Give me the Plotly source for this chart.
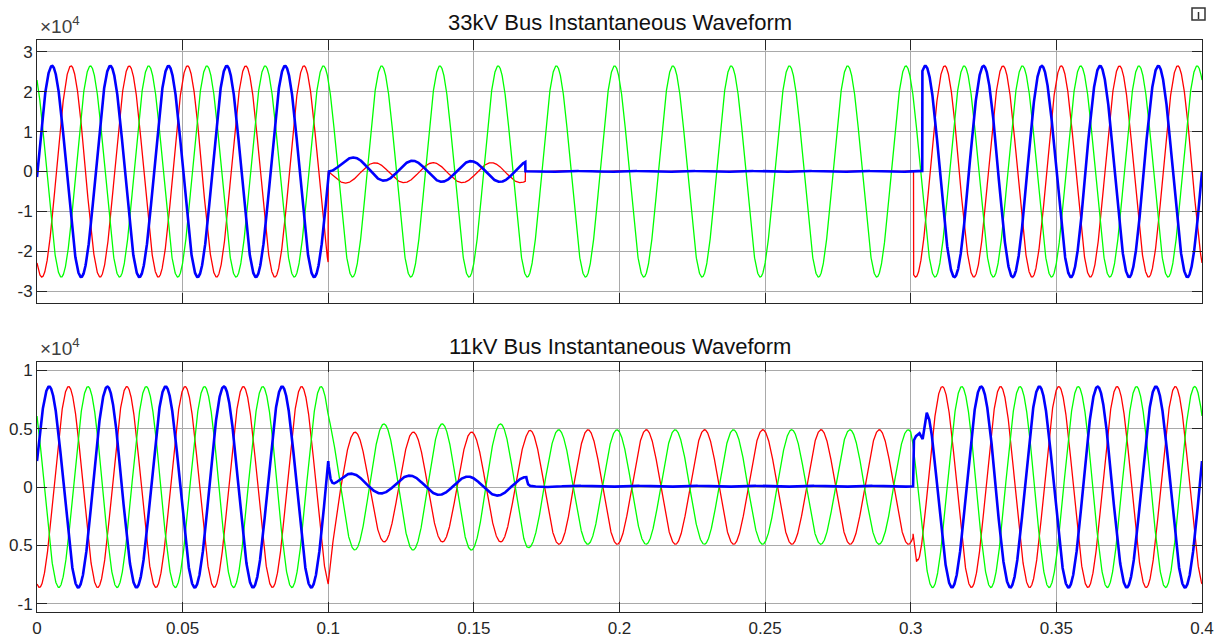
import numpy as np
import plotly.graph_objects as go

# ---------------- data (units of 10^4 V) ----------------
F_HZ = 50.0
T_STOP = 0.4
T_STEP = 0.00005

# Segment rows: (start time s, amplitude, phase deg, dc offset, dc decay s, start value, settle s)
#   start value: None -> waveform jumps; "cont" -> continues from previous segment
BUS33_RED = [
    (0.0,    2.65, -120, 0.0,   0,    None, 0),
    (0.1,    0.25,  162, -0.03, 0,    0.0,  0.004),
    (0.1677, 0.015,  30, 0.008, 0,    None, 0),
    (0.3010, 2.65, -120, 0.0,   0,    None, 0),
]
BUS33_GREEN = [
    (0.0,    2.65,  120, 0.0,   0,    None, 0),
]
BUS33_BLUE = [
    (0.0,    2.65,   -3, 0.0,   0,    None, 0),
    (0.1,    0.26,  -72, 0.0,   0,    0.0,  0.009),
    (0.1677, 0.015,  10, 0.0,   0,    None, 0),
    (0.3040, 2.65,    0, 0.0,   0,    None, 0),
]

BUS11_RED_RECLOSE_T = [0.3008, 0.3020]
BUS11_RED_RECLOSE_V = [-0.40, -0.64]
BUS11_BLUE_RECLOSE_T = [0.3008, 0.3011, 0.3018, 0.3030, 0.3041, 0.3055]
BUS11_BLUE_RECLOSE_V = [0.006, 0.40, 0.435, 0.46, 0.41, 0.636]

BUS11_RED = [
    (0.0,    0.86, -105,  0.0,   0,    None,   0),
    (0.1,    0.47, -75.6, 0.0,   0,    "cont", 0.0015),
    (0.1680, 0.49, -75.6, 0.0,   0,    "cont", 0.001),
    ("knots", BUS11_RED_RECLOSE_T, BUS11_RED_RECLOSE_V),
    (0.3022, 0.86, -105,  0.0,   0,    -0.62,  0.001),
]
BUS11_GREEN = [
    (0.0,    0.86,  135,  0.0,   0,    None,   0),
    (0.1,    0.54,  106,  0.0,   0,    "cont", 0.002),
    (0.1680, 0.49,  106,  0.0,   0,    "cont", 0.002),
    (0.3000, 0.86,  135,  0.0,   0,    "cont", 0.0015),
]
BUS11_BLUE = [
    (0.0,    0.86,   15,  0.0,   0,    None,   0),
    (0.1,    0.08,  -54,  0.045, 0.03, "cont", 0.0007),
    (0.1680, 0.006,   0,  0.006, 0,    "cont", 0.0004),
    ("knots", BUS11_BLUE_RECLOSE_T, BUS11_BLUE_RECLOSE_V),
    (0.3058, 0.86,   15,  0.0,   0,    0.62,   0.0015),
]

X_TICKS = [0, 0.05, 0.1, 0.15, 0.2, 0.25, 0.3, 0.35, 0.4]
X_LABELS = ["0", "0.05", "0.1", "0.15", "0.2", "0.25", "0.3", "0.35", "0.4"]
Y33_TICKS = [-3, -2, -1, 0, 1, 2, 3]
Y33_LABELS = ["-3", "-2", "-1", "0", "1", "2", "3"]
Y11_TICKS = [-1, -0.5, 0, 0.5, 1]
Y11_LABELS = ["-1", "0.5", "0", "0.5", "1"]

TITLE_33 = "33kV Bus Instantaneous Waveform"
TITLE_11 = "11kV Bus Instantaneous Waveform"


# ---------------- waveform assembly ----------------
def segment_func(row, prev):
    t0, amp, ph, dc, dc_tau, v0, tau = row
    ph = np.deg2rad(ph)

    def steady(tt):
        d = dc * (np.exp(-(tt - t0) / dc_tau) if dc_tau else 1.0)
        return amp * np.sin(2 * np.pi * F_HZ * tt + ph) + d

    if v0 is None or tau == 0:
        return steady
    start = prev(t0) if v0 == "cont" else v0
    gap = start - steady(t0)
    return lambda tt: steady(tt) + gap * np.exp(-(tt - t0) / tau)


def trace_xy(rows, t):
    starts = [r[1][0] if r[0] == "knots" else r[0] for r in rows]
    xs, ys, prev = [], [], None
    for i, r in enumerate(rows):
        t_end = starts[i + 1] if i + 1 < len(rows) else np.inf
        if r[0] == "knots":
            kt, kv = np.asarray(r[1], float), np.asarray(r[2], float)
            xs.append(kt)
            ys.append(kv)
            prev = (lambda a, b: (lambda tt: np.interp(tt, a, b)))(kt, kv)
        else:
            f = segment_func(r, prev)
            m = (t >= starts[i]) & (t < t_end)
            xs.append(t[m])
            ys.append(f(t[m]))
            prev = f
    return np.concatenate(xs), np.concatenate(ys)


t = np.round(np.arange(0.0, T_STOP + T_STEP / 2, T_STEP), 7)

RED, GREEN, BLUE = "#ff0000", "#00ff00", "#0000ff"
FONT = "Liberation Sans, Arial, Helvetica, sans-serif"
INK = "#262626"
GRID = "#a9a9a9"

fig = go.Figure()
for rows, col, w, xa, ya in [
    (BUS33_RED, RED, 1.3, "x", "y"),
    (BUS33_GREEN, GREEN, 1.3, "x", "y"),
    (BUS33_BLUE, BLUE, 2.6, "x", "y"),
    (BUS11_RED, RED, 1.3, "x2", "y2"),
    (BUS11_GREEN, GREEN, 1.3, "x2", "y2"),
    (BUS11_BLUE, BLUE, 2.6, "x2", "y2"),
]:
    x, y = trace_xy(rows, t)
    fig.add_trace(go.Scatter(x=x, y=y, mode="lines", xaxis=xa, yaxis=ya,
                             line=dict(color=col, width=w), showlegend=False,
                             hoverinfo="skip"))

axis_common = dict(
    ticks="inside", ticklen=10, tickcolor=INK, tickwidth=1,
    showline=True, linecolor=INK, linewidth=1, mirror="ticks",
    showgrid=True, gridcolor=GRID, gridwidth=1, zeroline=False,
    tickfont=dict(family=FONT, size=17, color=INK), automargin=False,
)

H_TOT = 639
M_L, M_R, M_T, M_B = 37, 21, 40, 27
PLOT_H = H_TOT - M_T - M_B


def py(pix):  # pixel row -> paper y
    return (H_TOT - M_B - pix) / PLOT_H


fig.update_layout(
    template="none",
    width=1223, height=639,
    margin=dict(l=M_L, r=M_R, t=M_T, b=M_B, pad=0),
    paper_bgcolor="white", plot_bgcolor="white",
    font=dict(family=FONT, color=INK),
    xaxis=dict(axis_common, domain=[0, 1], anchor="y", range=[0, T_STOP],
               tickvals=X_TICKS, ticktext=X_LABELS, showticklabels=False),
    xaxis2=dict(axis_common, domain=[0, 1], anchor="y2", range=[0, T_STOP],
                tickvals=X_TICKS, ticktext=X_LABELS, showticklabels=True,
                ticklabelstandoff=1),
    yaxis=dict(axis_common, domain=[py(303), 1], anchor="x", range=[-3.3, 3.3],
               tickvals=Y33_TICKS, ticktext=Y33_LABELS),
    yaxis2=dict(axis_common, domain=[0, py(362)], anchor="x2", range=[-1.07, 1.07],
                tickvals=Y11_TICKS, ticktext=Y11_LABELS),
)

ann = []
for title, ypix in [(TITLE_33, 22), (TITLE_11, 346)]:
    ann.append(dict(text=title, x=0.5, y=py(ypix), xref="paper", yref="paper",
                    xanchor="center", yanchor="middle", showarrow=False,
                    font=dict(family=FONT, size=22, color="#111111")))
for ypix in [40, 362]:
    ann.append(dict(text="\u00d710<sup>4</sup>", x=0.0, y=py(ypix), xref="paper", yref="paper",
                    xanchor="left", yanchor="bottom", showarrow=False, xshift=1, yshift=1,
                    font=dict(family=FONT, size=19, color="#404040")))
fig.update_layout(annotations=ann)

# small toolbar icon at the top-right corner
fig.add_shape(type="rect", xref="paper", yref="paper",
              x0=(1192 - M_L) / 1165, x1=(1205 - M_L) / 1165, y0=py(20), y1=py(8),
              line=dict(color="#333333", width=1.5), fillcolor="white")
fig.add_shape(type="line", xref="paper", yref="paper",
              x0=(1198.5 - M_L) / 1165, x1=(1198.5 - M_L) / 1165, y0=py(19), y1=py(12),
              line=dict(color="#333333", width=1.5))

fig.write_html("out.html", config={"displayModeBar": False},
               post_script="document.body.style.margin='0';")
